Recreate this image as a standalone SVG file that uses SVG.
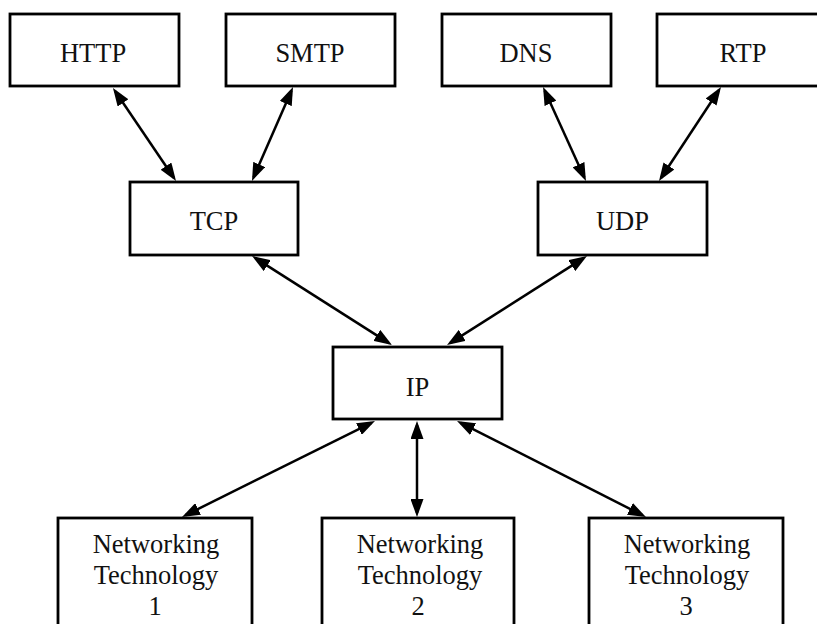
<svg xmlns="http://www.w3.org/2000/svg" width="817" height="624" viewBox="0 0 817 624">
  <style>
    .box { fill: #ffffff; stroke: #000000; stroke-width: 2.8; }
    .lbl { font-family: "Liberation Serif", "Times New Roman", serif; font-size: 26.5px; fill: #111111; text-anchor: middle; }
    .link { stroke: #000000; stroke-width: 2.5; fill: none; marker-start: url(#head); marker-end: url(#head); }
  </style>
  <defs>
    <marker id="head" markerUnits="userSpaceOnUse" viewBox="0 0 18 13" markerWidth="18" markerHeight="13" refX="14" refY="6.5" orient="auto-start-reverse">
      <path d="M0,0 L18,6.5 L0,13 z" fill="#000000"/>
    </marker>
  </defs>
  <rect width="817" height="624" fill="#ffffff"/>

  <!-- application layer -->
  <g id="http"><rect class="box" x="10" y="14" width="169" height="72"/><text class="lbl" x="93" y="62">HTTP</text></g>
  <g id="smtp"><rect class="box" x="226" y="14" width="169" height="72"/><text class="lbl" x="310" y="62">SMTP</text></g>
  <g id="dns"><rect class="box" x="442" y="14" width="169" height="72"/><text class="lbl" x="526" y="62">DNS</text></g>
  <g id="rtp"><rect class="box" x="657" y="14" width="172" height="72"/><text class="lbl" x="743" y="62">RTP</text></g>

  <!-- transport layer -->
  <g id="tcp"><rect class="box" x="130" y="182" width="168" height="73"/><text class="lbl" x="214" y="230">TCP</text></g>
  <g id="udp"><rect class="box" x="538" y="182" width="169" height="73"/><text class="lbl" x="622.5" y="230">UDP</text></g>

  <!-- network layer -->
  <g id="ip"><rect class="box" x="333" y="347" width="169" height="72"/><text class="lbl" x="417.5" y="396">IP</text></g>

  <!-- link technologies -->
  <g id="net1"><rect class="box" x="58" y="518" width="194" height="130"/>
    <text class="lbl" x="156" y="553">Networking</text><text class="lbl" x="156" y="584">Technology</text><text class="lbl" x="155" y="615">1</text></g>
  <g id="net2"><rect class="box" x="322" y="518" width="192" height="130"/>
    <text class="lbl" x="420" y="553">Networking</text><text class="lbl" x="420" y="584">Technology</text><text class="lbl" x="418" y="615">2</text></g>
  <g id="net3"><rect class="box" x="589" y="518" width="194" height="130"/>
    <text class="lbl" x="687" y="553">Networking</text><text class="lbl" x="687" y="584">Technology</text><text class="lbl" x="686" y="615">3</text></g>

  <!-- bidirectional links -->
  <g id="connectors">
    <line class="link" x1="115.2" y1="91.3" x2="173.8" y2="177.7"/>
    <line class="link" x1="291.4" y1="90.7" x2="253.6" y2="177.3"/>
    <line class="link" x1="544.7" y1="90.6" x2="584.3" y2="177.4"/>
    <line class="link" x1="718.8" y1="90.3" x2="661.2" y2="177.7"/>
    <line class="link" x1="255.4" y1="258.1" x2="388.6" y2="342.9"/>
    <line class="link" x1="583.6" y1="258.1" x2="450.4" y2="342.9"/>
    <line class="link" x1="371.4" y1="422.8" x2="185.6" y2="515.2"/>
    <line class="link" x1="417" y1="425" x2="417" y2="513"/>
    <line class="link" x1="460.6" y1="422.8" x2="642.4" y2="515.2"/>
  </g>
</svg>
